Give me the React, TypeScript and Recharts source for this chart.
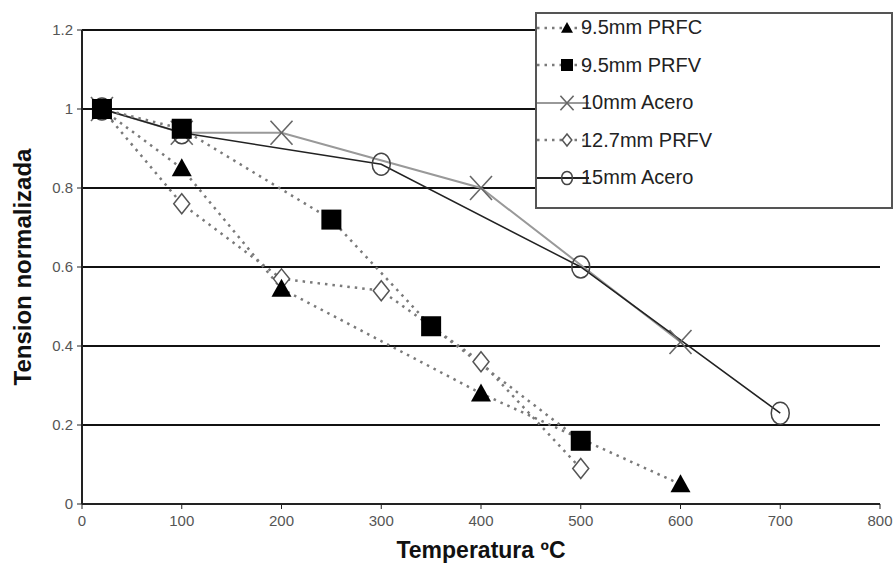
import React from 'react'
import {
  LineChart, Line, XAxis, YAxis, CartesianGrid, Label,
} from 'recharts'

// readings taken off the reference figure (temperature °C, normalised stress)
const PRFC_95_T = [20, 100, 200, 400, 600]
const PRFC_95_V = [1, 0.85, 0.545, 0.28, 0.05]

const PRFV_95_T = [20, 100, 250, 350, 500]
const PRFV_95_V = [1, 0.95, 0.72, 0.45, 0.16]

const ACERO_10_T = [20, 100, 200, 400, 600]
const ACERO_10_V = [1, 0.94, 0.94, 0.8, 0.41]

const PRFV_127_T = [20, 100, 200, 300, 400, 500]
const PRFV_127_V = [1, 0.76, 0.57, 0.54, 0.36, 0.09]

const ACERO_15_T = [20, 100, 300, 500, 700]
const ACERO_15_V = [1, 0.94, 0.86, 0.6, 0.23]

const X_TICKS = [0, 100, 200, 300, 400, 500, 600, 700, 800]
const Y_TICKS = [0, 0.2, 0.4, 0.6, 0.8, 1, 1.2]

const zip = (t: number[], v: number[]) => t.map((x, i) => ({ t: x, v: v[i] }))

type Marker = 'triangle' | 'square' | 'cross' | 'diamond' | 'circle'

function markerShape(kind: Marker, cx: number, cy: number, scale = 1) {
  const s = scale
  switch (kind) {
    case 'triangle':
      return <polygon points={`${cx},${cy - 10 * s} ${cx + 10 * s},${cy + 8 * s} ${cx - 10 * s},${cy + 8 * s}`} fill="#000" />
    case 'square':
      return <rect x={cx - 10 * s} y={cy - 10 * s} width={20 * s} height={20 * s} fill="#000" />
    case 'cross':
      return (
        <g stroke="#666" strokeWidth={1.6}>
          <line x1={cx - 11 * s} y1={cy - 12 * s} x2={cx + 11 * s} y2={cy + 12 * s} />
          <line x1={cx + 11 * s} y1={cy - 12 * s} x2={cx - 11 * s} y2={cy + 12 * s} />
        </g>
      )
    case 'diamond':
      return <polygon points={`${cx},${cy - 10 * s} ${cx + 8 * s},${cy} ${cx},${cy + 10 * s} ${cx - 8 * s},${cy}`} fill="#fff" stroke="#555" strokeWidth={1.5} />
    case 'circle':
      return <ellipse cx={cx} cy={cy} rx={9 * s} ry={11 * s} fill="#fff" fillOpacity={0} stroke="#444" strokeWidth={1.5} />
  }
}

const dotFor = (kind: Marker) => (props: any) => (
  <g key={`${kind}-${props.index}`}>{markerShape(kind, props.cx, props.cy)}</g>
)

const DOTTED = { stroke: '#7a7a7a', strokeWidth: 2.5, strokeDasharray: '2.5 5' }

const legendItems: { name: string; kind: Marker; dotted: boolean; color: string }[] = [
  { name: '9.5mm PRFC', kind: 'triangle', dotted: true, color: '#7a7a7a' },
  { name: '9.5mm PRFV', kind: 'square', dotted: true, color: '#7a7a7a' },
  { name: '10mm Acero', kind: 'cross', dotted: false, color: '#999' },
  { name: '12.7mm PRFV', kind: 'diamond', dotted: true, color: '#7a7a7a' },
  { name: '15mm Acero', kind: 'circle', dotted: false, color: '#222' },
]

function LegendBox() {
  return (
    <div style={{
      position: 'absolute', left: 535, top: 12,
      width: 358, height: 197, background: '#fff', border: '2px solid #555',
      boxSizing: 'border-box',
    }}>
      <div style={{ marginTop: -5 }}>
        {legendItems.map(it => (
          <div key={it.name} style={{ display: 'flex', alignItems: 'center', height: 37.5 }}>
            <svg width={52} height={30} style={{ flex: 'none' }}>
              <line x1={0} y1={15} x2={52} y2={15} stroke={it.color}
                strokeWidth={it.dotted ? 2.5 : 2} strokeDasharray={it.dotted ? '2.5 5' : undefined} />
              {markerShape(it.kind, 30, 15, 0.6)}
            </svg>
            <span style={{
              marginLeft: -8, fontFamily: 'Liberation Sans, Arial, sans-serif',
              fontSize: 20, color: '#222',
            }}>{it.name}</span>
          </div>
        ))}
      </div>
    </div>
  )
}

const fmtY = (v: number) => (v === 0 || v === 1 ? String(v) : v.toFixed(1))

export default function App() {
  const tickStyle = { fill: '#555', fontSize: 15, fontFamily: 'Liberation Sans, Arial, sans-serif' }
  return (
    <div style={{ position: 'absolute', left: 0, top: 0, width: 896, height: 575, background: '#fff' }}>
      <LineChart width={896} height={575} margin={{ top: 30, right: 16, bottom: 31, left: 0 }}>
        <CartesianGrid vertical={false} stroke="#111" strokeWidth={2} />
        <XAxis
          dataKey="t" type="number" domain={[0, 800]} ticks={X_TICKS} height={40}
          axisLine={{ stroke: '#222', strokeWidth: 2 }} tickLine={{ stroke: '#222' }}
          tickSize={5} tickMargin={6} tick={tickStyle} allowDuplicatedCategory={false}
        >
          <Label value="Temperatura ºC" position="bottom" offset={-2}
            style={{ fontSize: 23, fontWeight: 'bold', fill: '#111', fontFamily: 'Liberation Sans, Arial, sans-serif' }} />
        </XAxis>
        <YAxis
          type="number" domain={[0, 1.2]} ticks={Y_TICKS} width={82} tickFormatter={fmtY}
          axisLine={{ stroke: '#222', strokeWidth: 2 }} tickLine={{ stroke: '#222' }}
          tickSize={5} tickMargin={4} tick={tickStyle}
        >
          <Label value="Tension normalizada" angle={-90} position="insideLeft" offset={22}
            style={{ fontSize: 24, fontWeight: 'bold', fill: '#111', textAnchor: 'middle', fontFamily: 'Liberation Sans, Arial, sans-serif' }} />
        </YAxis>
        <Line data={zip(ACERO_10_T, ACERO_10_V)} dataKey="v" name="10mm Acero" stroke="#999" strokeWidth={2}
          dot={dotFor('cross')} activeDot={false} isAnimationActive={false} />
        <Line data={zip(ACERO_15_T, ACERO_15_V)} dataKey="v" name="15mm Acero" stroke="#222" strokeWidth={1.5}
          dot={dotFor('circle')} activeDot={false} isAnimationActive={false} />
        <Line data={zip(PRFV_127_T, PRFV_127_V)} dataKey="v" name="12.7mm PRFV" {...DOTTED}
          dot={dotFor('diamond')} activeDot={false} isAnimationActive={false} />
        <Line data={zip(PRFC_95_T, PRFC_95_V)} dataKey="v" name="9.5mm PRFC" {...DOTTED}
          dot={dotFor('triangle')} activeDot={false} isAnimationActive={false} />
        <Line data={zip(PRFV_95_T, PRFV_95_V)} dataKey="v" name="9.5mm PRFV" {...DOTTED}
          dot={dotFor('square')} activeDot={false} isAnimationActive={false} />
      </LineChart>
      <LegendBox />
    </div>
  )
}
